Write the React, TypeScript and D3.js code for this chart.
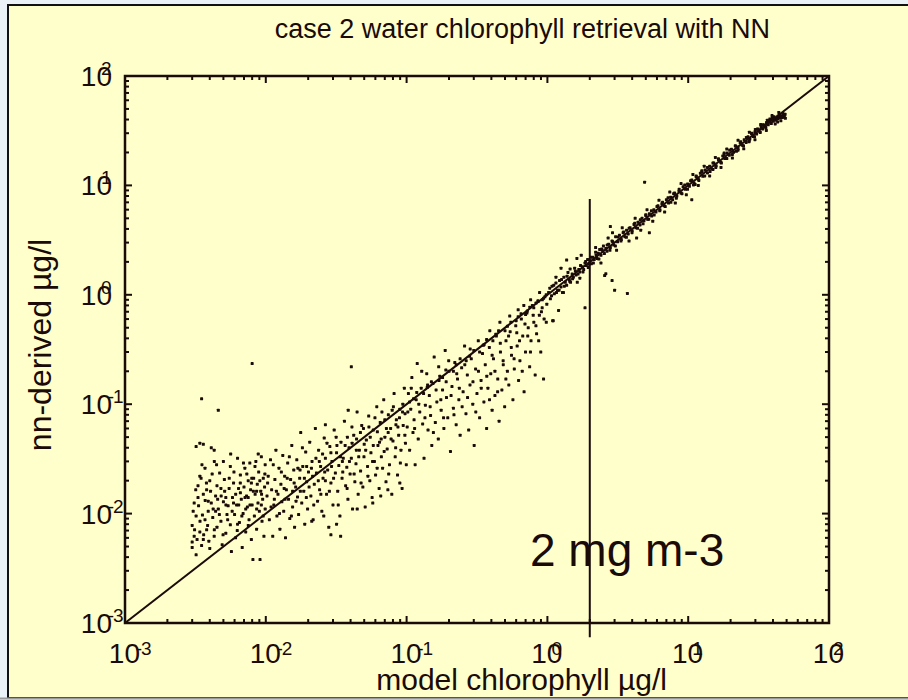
import React from 'react';
import * as d3 from 'd3';

const TITLE = 'case 2 water chlorophyll retrieval with NN';
const X_LABEL = 'model chlorophyll µg/l';
const Y_LABEL = 'nn-derived µg/l';
const ANNOTATION = '2 mg m-3';
const DOMAIN: [number, number] = [1e-3, 1e2];
const TICK_EXPONENTS = [-3, -2, -1, 0, 1, 2];
const MARKER_X = 2;
const MARKER_Y_RANGE: [number, number] = [0.00074, 7.5];
const ANNOTATION_POS: [number, number] = [0.752, 0.0033];

// low chlorophyll, x 0.003 - 0.01
const POINTS_A: [number, number][] = [
  [0.0030,0.0049],[0.0031,0.0062],[0.0030,0.0078],[0.0032,0.0095],[0.0031,0.0125],[0.0033,0.014],[0.0030,0.0055],[0.0034,0.0068],
  [0.0032,0.0042],[0.0035,0.0051],[0.0033,0.018],[0.0034,0.022],[0.0032,0.041],[0.0034,0.044],[0.0036,0.043],[0.0035,0.112],
  [0.0036,0.0058],[0.0037,0.0088],[0.0038,0.0071],[0.0036,0.0150],[0.0038,0.0165],[0.0039,0.0105],[0.0037,0.026],[0.0040,0.0048],
  [0.0041,0.0125],[0.0040,0.020],[0.0042,0.0092],[0.0041,0.040],[0.0043,0.038],[0.0044,0.0145],[0.0045,0.0075],[0.0043,0.0062],
  [0.0046,0.0110],[0.0045,0.018],[0.0047,0.0235],[0.0048,0.0085],[0.0046,0.088],[0.0049,0.0052],[0.0050,0.0128],[0.0051,0.016],
  [0.0052,0.0066],[0.0050,0.030],[0.0053,0.0098],[0.0055,0.021],[0.0054,0.0118],[0.0056,0.0079],[0.0057,0.0045],[0.0058,0.014],
  [0.0056,0.027],[0.0059,0.019],[0.0060,0.0098],[0.0061,0.0060],[0.0062,0.012],[0.0063,0.032],[0.0064,0.017],[0.0065,0.0083],
  [0.0066,0.0225],[0.0067,0.0135],[0.0068,0.0049],[0.0069,0.010],[0.0070,0.0175],[0.0071,0.026],[0.0072,0.0068],[0.0073,0.0145],
  [0.0074,0.0115],[0.0075,0.020],[0.0076,0.0088],[0.0077,0.029],[0.0078,0.0165],[0.0079,0.0058],[0.0080,0.235],[0.0080,0.012],
  [0.0081,0.0038],[0.0082,0.021],[0.0083,0.0095],[0.0084,0.0150],[0.0085,0.030],[0.0086,0.0072],[0.0087,0.0185],[0.0088,0.0125],
  [0.0089,0.024],[0.0090,0.0105],[0.0091,0.0038],[0.0092,0.016],[0.0093,0.033],[0.0094,0.0085],[0.0095,0.0135],[0.0096,0.021],
  [0.0097,0.0062],[0.0098,0.0175],[0.0099,0.028],[0.0099,0.0110],[0.0044,0.0105],[0.0052,0.0140],[0.0059,0.0125],[0.0066,0.0155],
  [0.0072,0.0110],[0.0079,0.0190],[0.0086,0.0160],[0.0093,0.0120],[0.0039,0.0130],[0.0048,0.0170],[0.0063,0.0080],[0.0075,0.0140],
  [0.00305,0.0105],[0.00312,0.0071],[0.00318,0.0165],[0.00325,0.0058],[0.00333,0.0118],[0.00341,0.0085],[0.00347,0.0210],[0.00355,0.0097],
  [0.00362,0.0064],[0.00371,0.0132],[0.00379,0.0190],[0.00386,0.0078],[0.00394,0.0056],[0.00405,0.0160],[0.00416,0.0230],[0.00423,0.0110],
  [0.00431,0.0071],[0.00447,0.0280],[0.00455,0.0135],[0.00468,0.0098],[0.00482,0.0145],[0.00497,0.0064],[0.00508,0.0205],[0.00521,0.0120],
  [0.00536,0.0088],[0.00549,0.0170],[0.00563,0.0350],[0.00577,0.0105],[0.00594,0.0240],[0.00611,0.0150],[0.00627,0.0070],[0.00642,0.0120],
  [0.00659,0.0190],[0.00676,0.0095],[0.00694,0.0290],[0.00712,0.0140],[0.00733,0.0230],[0.00751,0.0078],[0.00772,0.0120],[0.00795,0.0210],
  [0.00816,0.0160],[0.00838,0.0270],[0.00861,0.0110],[0.00884,0.0350],[0.00907,0.0200],[0.00933,0.0150],[0.00958,0.0095],[0.00985,0.0230],
  [0.00352,0.0280],[0.00431,0.0300],
];

// x 0.01 - 0.1
const POINTS_B: [number, number][] = [
  [0.0102,0.0145],[0.0104,0.022],[0.0106,0.0088],[0.0108,0.031],[0.0110,0.0165],[0.0112,0.0062],[0.0114,0.0120],[0.0116,0.0205],
  [0.0118,0.038],[0.0120,0.0095],[0.0122,0.0150],[0.0124,0.026],[0.0126,0.0072],[0.0128,0.0185],[0.0130,0.0128],[0.0132,0.034],
  [0.0134,0.0105],[0.0136,0.022],[0.0138,0.0060],[0.0140,0.0165],[0.0143,0.029],[0.0145,0.0135],[0.0148,0.0090],[0.0150,0.0205],
  [0.0153,0.042],[0.0155,0.0115],[0.0158,0.0250],[0.0160,0.0075],[0.0163,0.0175],[0.0166,0.0310],[0.0168,0.0142],[0.0171,0.0098],
  [0.0174,0.021],[0.0177,0.055],[0.0180,0.0125],[0.0183,0.027],[0.0186,0.0160],[0.0189,0.0080],[0.0192,0.0365],[0.0195,0.0195],
  [0.0198,0.0110],[0.0201,0.024],[0.0205,0.045],[0.0209,0.0145],[0.0213,0.0300],[0.0217,0.0088],[0.0221,0.0185],[0.0225,0.060],
  [0.0229,0.0235],[0.0233,0.0130],[0.0237,0.038],[0.0241,0.0165],[0.0245,0.0270],[0.0250,0.0105],[0.0255,0.0210],[0.0260,0.049],
  [0.0265,0.0320],[0.0270,0.0150],[0.0275,0.0250],[0.0280,0.0075],[0.0285,0.0410],[0.0290,0.0190],[0.0295,0.030],[0.0300,0.0120],
  [0.0306,0.058],[0.0312,0.0235],[0.0318,0.036],[0.0324,0.0160],[0.0330,0.0275],[0.0336,0.0095],[0.0342,0.045],[0.0348,0.0210],
  [0.0355,0.032],[0.0362,0.070],[0.0369,0.0180],[0.0376,0.0265],[0.0383,0.0135],[0.0390,0.040],[0.0397,0.0230],[0.0405,0.220],
  [0.0405,0.0320],[0.0413,0.0110],[0.0421,0.052],[0.0429,0.0195],[0.0437,0.0285],[0.0445,0.085],[0.0453,0.0150],[0.0462,0.038],
  [0.0471,0.0245],[0.0480,0.064],[0.0489,0.0175],[0.0498,0.0330],[0.0508,0.0115],[0.0518,0.047],[0.0528,0.0270],[0.0538,0.078],
  [0.0548,0.0200],[0.0558,0.036],[0.0569,0.0140],[0.0580,0.058],[0.0591,0.030],[0.0602,0.0225],[0.0614,0.095],[0.0626,0.042],
  [0.0638,0.0170],[0.0650,0.068],[0.0662,0.0330],[0.0675,0.0260],[0.0688,0.110],[0.0701,0.050],[0.0714,0.0195],[0.0728,0.039],
  [0.0742,0.080],[0.0756,0.028],[0.0770,0.0600],[0.0785,0.0150],[0.0800,0.046],[0.0815,0.125],[0.0830,0.033],[0.0846,0.072],
  [0.0862,0.0225],[0.0878,0.052],[0.0895,0.090],[0.0912,0.038],[0.0929,0.0170],[0.0946,0.064],[0.0964,0.140],[0.0982,0.044],
  [0.0995,0.028],[0.029,0.0064],[0.034,0.0062],
  [0.0115,0.0135],[0.0135,0.0170],[0.0155,0.0160],[0.0175,0.0250],[0.0195,0.0270],[0.0215,0.0220],[0.0240,0.0300],[0.0265,0.0200],
  [0.0290,0.0360],[0.0320,0.0420],[0.0350,0.0300],[0.0380,0.0500],[0.0410,0.0440],[0.0440,0.0380],[0.0470,0.0550],[0.0500,0.0430],
  [0.0540,0.0620],[0.0580,0.0420],[0.0620,0.0560],[0.0660,0.0480],[0.0700,0.0720],[0.0740,0.0550],[0.0790,0.0880],[0.0840,0.0650],
  [0.0890,0.0750],[0.0940,0.1000],[0.0975,0.0820],
  [0.0103,0.0190],[0.0109,0.0115],[0.0113,0.0280],[0.0119,0.0160],[0.0125,0.0100],[0.0129,0.0240],[0.0137,0.0135],[0.0142,0.0210],
  [0.0147,0.0330],[0.0152,0.0095],[0.0159,0.0190],[0.0164,0.0130],[0.0169,0.0260],[0.0176,0.0160],[0.0182,0.0400],[0.0188,0.0210],
  [0.0194,0.0140],[0.0203,0.0175],[0.0211,0.0260],[0.0219,0.0120],[0.0227,0.0320],[0.0236,0.0200],[0.0246,0.0150],[0.0253,0.0350],
  [0.0262,0.0240],[0.0272,0.0440],[0.0283,0.0160],[0.0293,0.0270],[0.0303,0.0210],[0.0316,0.0500],[0.0327,0.0120],[0.0339,0.0330],
  [0.0352,0.0240],[0.0366,0.0420],[0.0378,0.0170],[0.0393,0.0300],[0.0409,0.0620],[0.0424,0.0230],[0.0441,0.0480],[0.0457,0.0330],
  [0.0475,0.0190],[0.0494,0.0600],[0.0512,0.0380],[0.0531,0.0220],[0.0552,0.0500],[0.0573,0.0300],[0.0596,0.0750],[0.0618,0.0260],
  [0.0642,0.0450],[0.0668,0.0850],[0.0693,0.0370],[0.0719,0.0600],[0.0746,0.0230],[0.0776,0.0480],[0.0806,0.0950],[0.0836,0.0400],
  [0.0868,0.0620],[0.0903,0.0290],[0.0936,0.0850],[0.0972,0.0520],[0.0212,0.0085],[0.0258,0.0095],[0.0318,0.0080],[0.0446,0.0110],
  [0.0575,0.0125],[0.0655,0.0145],[0.0736,0.0165],[0.0895,0.0190],[0.0385,0.0880],[0.0265,0.0650],
];

// x 0.1 - 1
const POINTS_C: [number, number][] = [
  [0.101,0.062],[0.103,0.125],[0.105,0.038],[0.107,0.090],[0.109,0.175],[0.111,0.055],[0.113,0.072],[0.115,0.028],
  [0.117,0.110],[0.119,0.235],[0.121,0.048],[0.124,0.085],[0.127,0.140],[0.130,0.066],[0.133,0.032],[0.136,0.098],
  [0.139,0.190],[0.142,0.058],[0.145,0.120],[0.148,0.079],[0.151,0.042],[0.154,0.155],[0.157,0.270],[0.160,0.068],
  [0.164,0.105],[0.168,0.048],[0.172,0.180],[0.176,0.088],[0.180,0.135],[0.184,0.060],[0.188,0.310],[0.192,0.115],
  [0.196,0.075],[0.200,0.200],[0.205,0.037],[0.210,0.145],[0.215,0.092],[0.220,0.240],[0.225,0.065],[0.230,0.170],
  [0.235,0.110],[0.240,0.052],[0.246,0.215],[0.252,0.130],[0.258,0.340],[0.264,0.082],[0.270,0.185],[0.276,0.058],
  [0.282,0.150],[0.288,0.260],[0.295,0.100],[0.302,0.042],[0.309,0.210],[0.316,0.125],[0.323,0.380],[0.330,0.075],
  [0.338,0.165],[0.346,0.290],[0.354,0.105],[0.362,0.230],[0.370,0.060],[0.378,0.140],[0.387,0.330],[0.396,0.190],
  [0.405,0.088],[0.414,0.260],[0.424,0.120],[0.434,0.420],[0.444,0.170],[0.454,0.070],[0.464,0.300],[0.475,0.135],
  [0.486,0.230],[0.497,0.095],[0.508,0.380],[0.520,0.200],[0.532,0.150],[0.544,0.460],[0.556,0.280],[0.569,0.110],
  [0.582,0.210],[0.596,0.520],[0.610,0.340],[0.624,0.165],[0.638,0.250],[0.653,0.600],[0.668,0.420],[0.683,0.130],
  [0.699,0.300],[0.715,0.680],[0.731,0.500],[0.748,0.220],[0.765,0.380],[0.783,0.800],[0.801,0.560],[0.819,0.185],
  [0.838,0.440],[0.857,0.880],[0.877,0.650],[0.897,0.300],[0.918,0.760],[0.939,0.170],[0.960,0.960],[0.982,0.560],
  [0.105,0.105],[0.118,0.128],[0.132,0.125],[0.150,0.160],[0.170,0.165],[0.190,0.205],[0.215,0.200],[0.240,0.260],
  [0.265,0.250],[0.300,0.310],[0.330,0.300],[0.370,0.390],[0.410,0.380],[0.450,0.470],[0.500,0.470],[0.550,0.560],
  [0.600,0.580],[0.650,0.670],[0.700,0.660],[0.750,0.770],[0.800,0.760],[0.860,0.870],[0.920,0.900],[0.980,1.000],
  [0.102,0.085],[0.108,0.140],[0.114,0.060],[0.122,0.100],[0.128,0.200],[0.135,0.075],[0.141,0.150],[0.147,0.095],
  [0.155,0.055],[0.162,0.135],[0.169,0.220],[0.175,0.110],[0.183,0.075],[0.191,0.160],[0.199,0.250],[0.207,0.120],
  [0.217,0.080],[0.227,0.190],[0.237,0.140],[0.248,0.095],[0.259,0.230],[0.271,0.115],[0.283,0.320],[0.296,0.160],
  [0.310,0.085],[0.324,0.200],[0.339,0.140],[0.355,0.350],[0.371,0.180],[0.388,0.110],[0.405,0.280],[0.424,0.200],
  [0.443,0.130],[0.463,0.360],[0.485,0.250],[0.507,0.170],[0.530,0.420],[0.554,0.330],[0.580,0.260],[0.606,0.450],
  [0.634,0.380],[0.663,0.200],[0.693,0.540],[0.725,0.420],[0.758,0.300],[0.793,0.650],[0.829,0.520],[0.867,0.380],
  [0.907,0.700],[0.948,0.600],[0.990,0.820],[0.112,0.112],[0.140,0.142],[0.180,0.175],[0.225,0.230],[0.280,0.275],
  [0.350,0.345],[0.430,0.435],[0.520,0.515],[0.620,0.630],[0.720,0.710],[0.830,0.840],[0.940,0.930],[0.540,0.640],
  [0.680,0.800],[0.760,0.900],[0.880,1.050],[0.460,0.560],[0.390,0.470],[0.620,0.730],
];

// x 1 - 10
const POINTS_D: [number, number][] = [
  [1.02,1.05],[1.05,0.92],[1.08,1.20],[1.10,0.58],[1.12,1.02],[1.15,1.28],[1.18,1.10],[1.20,0.72],[1.22,1.35],[1.25,1.18],
  [1.28,1.05],[1.31,1.45],[1.34,1.30],[1.37,1.22],[1.40,1.60],[1.43,1.38],[1.46,1.30],[1.50,1.55],[1.53,1.45],[1.56,1.75],
  [1.60,1.52],[1.63,1.30],[1.67,1.70],[1.70,1.62],[1.74,2.30],[1.77,1.80],[1.81,1.70],[1.85,0.76],[1.85,1.95],[1.89,1.85],
  [1.93,2.10],[1.97,1.90],[2.01,2.05],[2.05,1.92],[2.10,2.20],[2.15,2.10],[2.20,2.45],[2.25,2.15],[2.30,2.40],[2.35,2.60],
  [2.40,2.30],[2.45,2.55],[2.50,2.80],[2.55,1.50],[2.60,2.65],[2.65,2.50],[2.72,2.90],[2.80,2.70],[2.88,1.35],[2.88,3.10],
  [2.96,2.85],[3.00,1.10],[3.05,3.40],[3.15,3.05],[3.25,3.50],[3.35,3.20],[3.45,3.70],[3.55,3.40],[3.70,1.03],[3.65,3.90],
  [3.75,3.60],[3.87,4.10],[4.00,3.85],[4.12,4.40],[4.25,4.10],[4.40,4.60],[4.55,4.35],[4.70,5.00],[4.85,4.75],[5.00,5.30],
  [5.15,4.90],[5.30,5.50],[5.50,5.25],[5.70,6.00],[5.90,5.70],[6.10,6.50],[6.30,6.00],[6.50,6.80],[6.75,6.50],[7.00,7.40],
  [7.25,6.90],[7.50,7.80],[7.75,7.40],[8.00,8.50],[8.30,8.00],[8.60,8.90],[8.90,8.50],[9.20,9.70],[9.55,9.20],[9.90,10.3],
  [2.80,4.20],[2.90,3.70],[4.90,10.7],[5.30,3.70],[4.30,3.30],[2.60,1.56],[1.09,0.58],[1.37,2.08],[1.25,1.75],[1.62,2.15],
  [1.04,1.15],[1.07,0.98],[1.11,1.22],[1.16,1.05],[1.21,1.10],[1.26,1.38],[1.32,1.20],[1.38,1.48],[1.44,1.33],[1.51,1.40],
  [1.58,1.65],[1.65,1.55],[1.72,1.85],[1.79,1.62],[1.87,2.02],[1.95,1.78],[2.03,2.20],[2.12,1.95],[2.22,2.30],[2.32,2.12],
  [2.43,2.62],[2.54,2.38],[2.66,2.85],[2.78,2.55],[2.91,3.05],[3.04,2.80],[3.18,3.38],[3.33,3.10],[3.48,3.75],[3.64,3.35],
  [3.81,4.05],[3.99,3.70],[4.17,4.50],[4.37,4.05],[4.57,4.85],[4.78,4.45],[5.00,5.40],[5.24,4.90],[5.48,5.85],[5.73,5.35],
  [6.00,6.40],[6.28,5.85],[6.57,7.00],[6.87,6.40],[7.19,7.70],[7.53,7.00],[7.88,8.40],[8.24,7.65],[8.63,9.20],[9.03,8.40],
  [9.45,10.1],[9.89,9.20],
  [2.2,2.7],[2.4,1.95],[2.7,3.3],[3.1,2.55],[3.4,4.1],[3.8,3.1],[4.2,5.0],[4.6,3.9],[5.1,6.0],[5.6,4.7],
  [6.2,7.3],[6.8,5.7],[7.4,8.7],[8.1,6.9],[8.9,10.4],[9.7,8.2],[1.15,1.45],[1.45,1.72],[1.30,1.05],[1.70,1.42],
];

// x 10 - 50
const POINTS_E: [number, number][] = [
  [10.2,9.8],[10.6,11.2],[11.0,10.5],[11.4,12.0],[11.8,11.4],[12.2,12.9],[12.7,12.1],[13.2,13.8],[13.7,13.0],[14.2,15.0],
  [14.7,14.1],[15.2,16.0],[15.8,15.1],[16.4,17.2],[17.0,16.3],[17.6,18.6],[18.2,17.6],[18.9,19.8],[19.6,18.9],[20.3,21.4],
  [21.0,20.1],[21.8,22.8],[22.6,21.8],[23.4,24.6],[24.2,23.3],[25.0,26.2],[25.8,24.7],[26.6,27.8],[27.4,26.5],[28.2,29.6],
  [29.0,28.0],[29.8,31.0],[30.6,29.5],[31.4,32.6],[32.2,31.0],[33.0,34.0],[33.8,32.8],[34.6,35.6],[35.4,34.3],[36.2,37.0],
  [37.0,35.8],[37.8,38.6],[38.6,37.2],[39.4,39.8],[40.2,38.6],[41.0,40.5],[41.8,39.4],[42.6,41.6],[43.4,40.8],[44.2,42.2],
  [45.0,41.5],[45.8,43.0],[46.6,42.0],[47.4,43.6],[48.2,42.8],[49.0,41.0],[36.5,39.5],[38.0,40.5],[40.0,42.0],[30.0,32.5],
  [27.0,25.0],[22.0,20.5],[18.0,19.8],[15.0,14.0],[12.5,13.6],[11.2,10.2],[10.6,7.4],
  [10.4,11.0],[10.9,10.1],[11.4,12.2],[11.9,11.1],[12.5,13.3],[13.1,12.2],[13.7,14.6],[14.3,13.4],[15.0,16.0],[15.7,14.6],
  [16.4,17.5],[17.2,16.0],[18.0,19.2],[18.8,17.6],[19.7,21.0],[20.6,19.2],[21.6,23.0],[22.6,21.0],[23.6,25.0],[24.7,23.0],
  [25.9,27.4],[27.1,25.4],[28.3,30.0],[29.6,27.8],[31.0,32.8],[32.5,30.5],[34.0,35.8],[35.6,33.6],[37.2,39.0],[38.9,36.8],
  [40.7,42.4],[42.6,40.2],[44.6,44.0],[46.7,41.8],[48.8,44.6],[43.5,43.0],[39.5,41.0],[36.0,37.5],
  [10.8,12.6],[11.8,10.0],[13.0,15.0],[14.2,12.2],[15.6,18.0],[17.1,14.6],[18.8,21.5],[20.6,17.8],[22.6,25.8],[24.8,21.6],
  [27.2,30.6],[29.8,26.2],[32.7,36.0],[35.9,31.8],[39.4,43.5],[43.2,38.0],[47.0,45.5],[45.5,39.0],[41.5,36.5],[44.0,46.5],
];

const W = 908;
const H = 700;
const PLOT = { left: 125, right: 829, top: 76, bottom: 623 };
const FONT = '"Liberation Sans", Arial, Helvetica, sans-serif';
const INK = '#1a0a08';

export default function App() {
  const x = d3.scaleLog().domain(DOMAIN).range([PLOT.left, PLOT.right]);
  const y = d3.scaleLog().domain(DOMAIN).range([PLOT.bottom, PLOT.top]);
  const all = [...POINTS_A, ...POINTS_B, ...POINTS_C, ...POINTS_D, ...POINTS_E];

  const minors: number[] = [];
  TICK_EXPONENTS.slice(0, -1).forEach((e) => {
    for (let m = 2; m <= 9; m++) minors.push(m * Math.pow(10, e));
  });
  const majors = TICK_EXPONENTS.map((e) => Math.pow(10, e));

  const diag = d3.line<number>().x((v) => x(v)).y((v) => y(v))(DOMAIN) || '';

  const tickSegs: any[] = [];
  const addTicks = (vals: number[], len: number, keyp: string) => {
    vals.forEach((v, i) => {
      const px = x(v);
      const py = y(v);
      tickSegs.push(
        <line key={`${keyp}b${i}`} x1={px} x2={px} y1={PLOT.bottom} y2={PLOT.bottom - len} />,
        <line key={`${keyp}t${i}`} x1={px} x2={px} y1={PLOT.top} y2={PLOT.top + len} />,
        <line key={`${keyp}l${i}`} x1={PLOT.left} x2={PLOT.left + len} y1={py} y2={py} />,
        <line key={`${keyp}r${i}`} x1={PLOT.right} x2={PLOT.right - len} y1={py} y2={py} />
      );
    });
  };
  addTicks(majors, 7, 'M');
  addTicks(minors, 4, 'm');

  const expLabel = (e: number, endX: number, baseY: number, expBaseY: number, key: string) => {
    const neg = e < 0;
    const digitX = neg ? endX + 1 : endX - 11;
    return (
      <g key={key}>
        <text x={endX} y={baseY} textAnchor="end" fontSize={28}>10</text>
        {neg && <text x={digitX + 1} y={expBaseY} textAnchor="end" fontSize={19}>-</text>}
        <text x={digitX} y={expBaseY} fontSize={19}>{Math.abs(e)}</text>
      </g>
    );
  };

  return (
    <svg width={W} height={H} style={{ position: 'absolute', left: 0, top: 0 }} fontFamily={FONT}>
      <rect x={0} y={0} width={W} height={H} fill="#eaf2f8" />
      <rect x={8} y={5} width={W + 20} height={693} fill="#ffffcc" stroke="#111" strokeWidth={2} />
      <line x1={0} x2={W} y1={698.5} y2={698.5} stroke="#9a9a9a" strokeWidth={2} />

      <g fill={INK}>
        {all.map(([vx, vy], i) => (
          <rect key={i} x={x(vx) - 1.5} y={y(vy) - 1.5} width={3} height={3} rx={0.6} />
        ))}
      </g>

      <path d={diag} stroke={INK} strokeWidth={2} fill="none" />
      <line x1={x(MARKER_X)} x2={x(MARKER_X)} y1={y(MARKER_Y_RANGE[0])} y2={y(MARKER_Y_RANGE[1])} stroke={INK} strokeWidth={2} />

      <g stroke={INK} strokeWidth={2}>{tickSegs}</g>
      <rect x={PLOT.left} y={PLOT.top} width={PLOT.right - PLOT.left} height={PLOT.bottom - PLOT.top} fill="none" stroke={INK} strokeWidth={2.5} />

      <g fill={INK}>
        {TICK_EXPONENTS.map((e) => expLabel(e, x(Math.pow(10, e)) + 15, 663, 655, `x${e}`))}
        {TICK_EXPONENTS.map((e) => expLabel(e, PLOT.left - 13, y(Math.pow(10, e)) + 10, y(Math.pow(10, e)) - 1, `y${e}`))}
        <text x={770} y={38} textAnchor="end" fontSize={27}>{TITLE}</text>
        <text x={667} y={690} textAnchor="end" fontSize={30}>{X_LABEL}</text>
        <text transform={`translate(51, 345) rotate(-90)`} textAnchor="middle" fontSize={32}>{Y_LABEL}</text>
        <text x={x(ANNOTATION_POS[0])} y={y(ANNOTATION_POS[1])} fontSize={46}>{ANNOTATION}</text>
      </g>
    </svg>
  );
}
